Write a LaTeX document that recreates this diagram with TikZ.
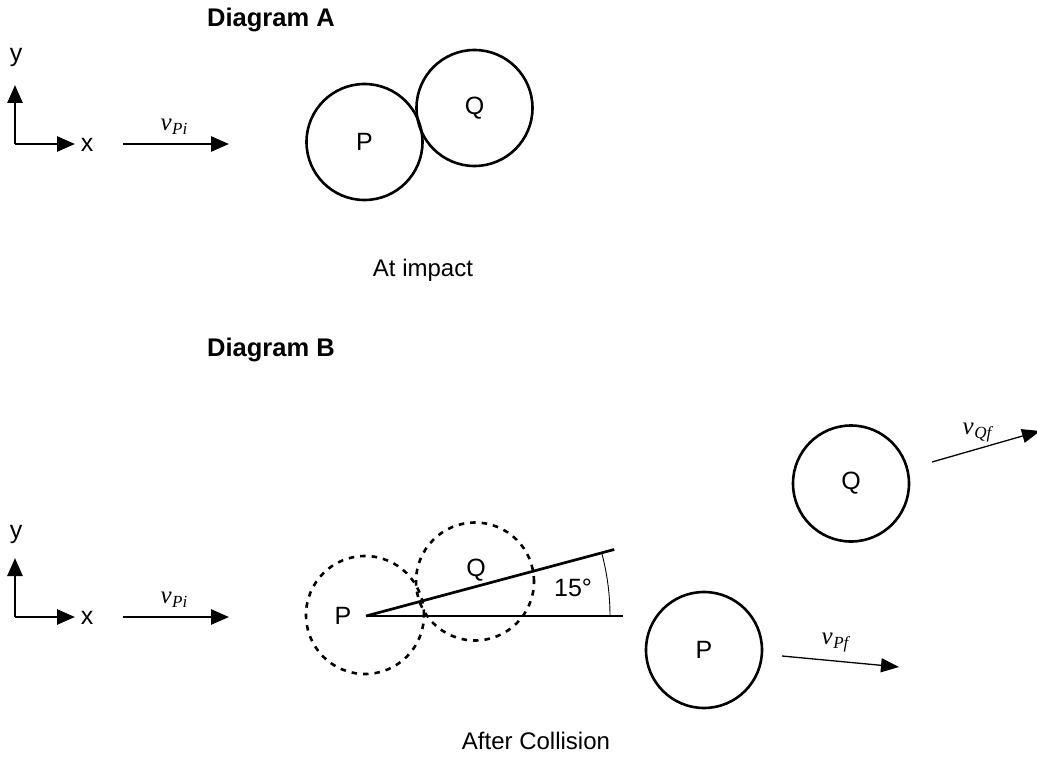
\documentclass[tikz,border=0pt]{standalone}
\usepackage{fontspec}
\setmainfont{Liberation Sans}
\newfontfamily\tmsfont{Liberation Serif}
\usetikzlibrary{arrows.meta,calc}
\newcommand{\vlab}[1]{{\tmsfont\itshape\fontsize{25}{26}\selectfont v\kern0.5pt\raisebox{-4pt}{\fontsize{17}{17}\selectfont #1}}}
\begin{document}
\begin{tikzpicture}[x=1pt,y=-1pt,
  txt/.style={font=\fontsize{24}{28}\selectfont, inner sep=0pt},
  head/.style={font=\fontsize{25.5}{28}\selectfont\bfseries, inner sep=0pt, anchor=west},
  ball/.style={circle, draw, line width=2.6pt, minimum size=116pt, inner sep=0pt, font=\fontsize{25}{28}\selectfont},
  ghost/.style={circle, draw, line width=2.6pt, dash pattern=on 5.5pt off 6pt, minimum size=118pt, inner sep=0pt},
  axis/.style={line width=2.7pt, -{Triangle[length=18pt,width=15pt]}},
  vel/.style={line width=1.3pt, -{Triangle[length=18pt,width=14pt]}},
  lbl/.style={inner sep=0pt, font=\fontsize{25}{28}\selectfont}]
\useasboundingbox (0,0) rectangle (1037,757);
% ---------- Diagram A ----------
\node[head] (hA) at (207,20) {Diagram A};
\coordinate (oA) at (15,144);
\coordinate (yA) at (15,85);
\coordinate (xA) at (75,144);
\draw[axis] (oA) -- (yA);
\draw[axis] (oA) -- (xA);
\node[lbl] (ylA) at (16,57) {y};
\node[lbl] (xlA) at (87,145) {x};
\coordinate (vAs) at (123,144);
\coordinate (vAe) at (229,144);
\draw[axis] (vAs) -- (vAe);
\node[inner sep=0pt] (vlA) at (174,127) {\vlab{Pi}};
\node[ball] (PA) at (364.5,142) {P};
\node[ball] (QA) at (474.5,108) {Q};
\node[txt] (capA) at (423,270) {At impact};
% ---------- Diagram B ----------
\node[head] (hB) at (207,350) {Diagram B};
\coordinate (oB) at (15,617);
\coordinate (yB) at (15,558);
\coordinate (xB) at (75,617);
\draw[axis] (oB) -- (yB);
\draw[axis] (oB) -- (xB);
\node[lbl] (ylB) at (16,534) {y};
\node[lbl] (xlB) at (87,618) {x};
\coordinate (vBs) at (123,617);
\coordinate (vBe) at (229,617);
\draw[axis] (vBs) -- (vBe);
\node[inner sep=0pt] (vlB) at (174,600) {\vlab{Pi}};
% ghost positions
\node[ghost] (Pg) at (365,615) {};
\node[ghost] (Qg) at (475,581.5) {};
\node[lbl] (Pgl) at (343,616) {P};
\node[lbl] (Qgl) at (476,570) {Q};
% angle lines
\coordinate (O) at (366,616);
\coordinate (H) at (623,616);
\coordinate (S) at ($(O)+(-15:257)$);
\coordinate (A0) at ($(O)+(244,0)$);
\draw[line width=2.7pt] (O) -- (H);
\draw[line width=2.7pt] (O) -- (S);
\draw[line width=0.9pt] (A0) arc[start angle=0, end angle=-15, radius=244];
\node[lbl] (ang) at (573,588) {15°};
% final positions
\node[ball] (Qf) at (851,483.5) {Q};
\node[ball] (Pf) at (704,650) {P};
\coordinate (vQs) at (932,462);
\coordinate (vQe) at (1040,431);
\draw[vel] (vQs) -- (vQe);
\node[inner sep=0pt] (vlQ) at (977,433) {\vlab{Qf}};
\coordinate (vPs) at (782,656);
\coordinate (vPe) at (899,667);
\draw[vel] (vPs) -- (vPe);
\node[inner sep=0pt] (vlP) at (835,643) {\vlab{Pf}};
\node[txt] (capB) at (536,741) {After Collision};
\end{tikzpicture}
\end{document}
